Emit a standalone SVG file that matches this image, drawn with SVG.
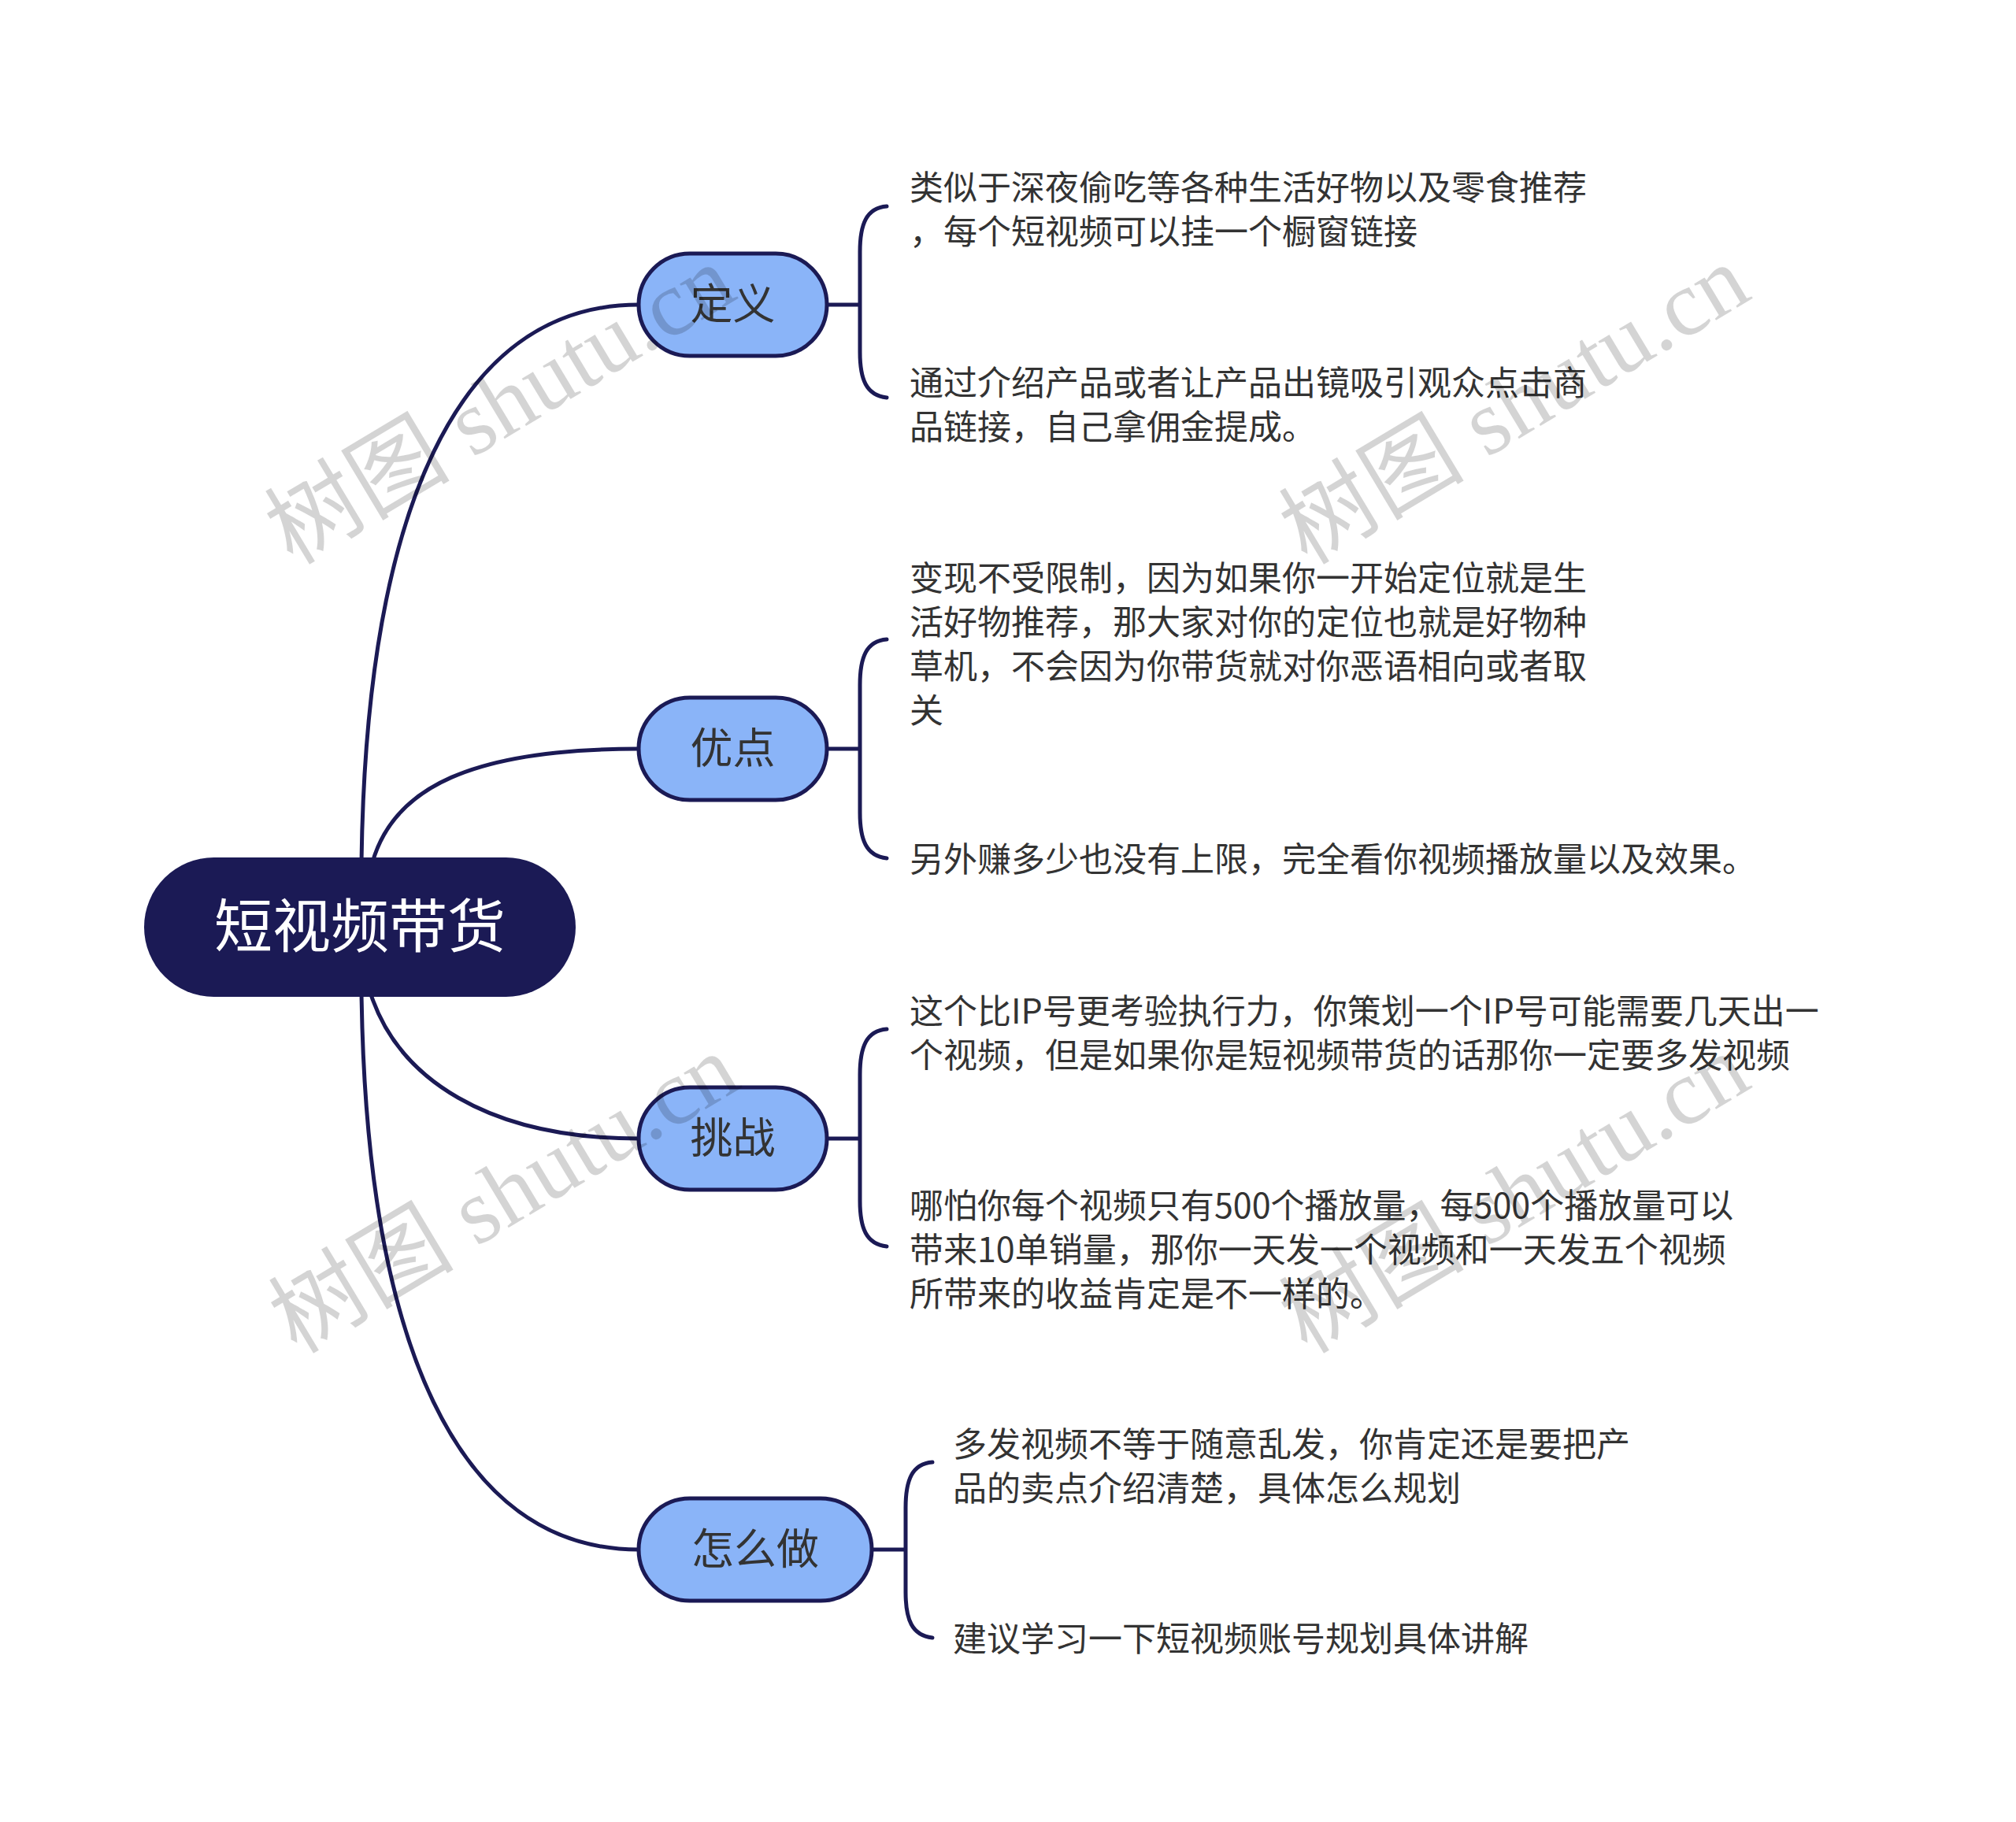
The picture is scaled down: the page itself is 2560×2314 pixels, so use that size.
<svg xmlns="http://www.w3.org/2000/svg" width="2560" height="2314" viewBox="0 0 2560 2314">
<style>
.conn{fill:none;stroke:#1b1a55;stroke-width:5;stroke-linecap:round}
.root{fill:#1b1a55}
.sub{fill:#8ab4f8;stroke:#1b1a55;stroke-width:5}
.rt{font-family:"Noto Sans CJK SC","Noto Sans",sans-serif;font-size:74px;fill:#ffffff;text-anchor:middle}
.st{font-family:"Noto Sans CJK SC","Noto Sans",sans-serif;font-size:54px;fill:#333333;text-anchor:middle}
.lt{font-family:"Noto Sans CJK SC","Noto Sans",sans-serif;font-size:43px;fill:#333333}
.wm{font-family:"Liberation Serif","Noto Sans CJK SC",serif;font-size:118px;fill:#000000;fill-opacity:0.17;text-anchor:middle}
</style>
<rect width="2560" height="2314" fill="#ffffff"/>
<g id="connectors">
<path class="conn" d="M459 1095 C465 650 580 387 811 387"/>
<path class="conn" d="M473 1095 C500 1000 600 951 811 951"/>
<path class="conn" d="M470 1260 C505 1370 620 1446 811 1446"/>
<path class="conn" d="M459 1260 C465 1705 580 1968 811 1968"/>
<path class="conn" d="M1050 387 H1092 M1126 262 C1100 264 1092 285 1092 320 L1092 447 C1092 482 1100 502 1126 505"/>
<path class="conn" d="M1050 951 H1092 M1126 812 C1100 814 1092 835 1092 870 L1092 1032 C1092 1067 1100 1087 1126 1090"/>
<path class="conn" d="M1050 1446 H1092 M1126 1307 C1100 1309 1092 1330 1092 1365 L1092 1525 C1092 1560 1100 1580 1126 1583"/>
<path class="conn" d="M1107 1968 H1150 M1184 1857 C1158 1859 1150 1880 1150 1915 L1150 2022 C1150 2057 1158 2077 1184 2080"/>
</g>
<g id="root">
<rect class="root" x="183" y="1089" width="548" height="177" rx="88.5"/>
<text class="rt" x="457" y="1203">短视频带货</text>
</g>
<g id="n-dingyi">
<rect class="sub" x="811" y="322" width="239" height="130" rx="65"/>
<text class="st" x="930.5" y="406">定义</text>
</g>
<g id="n-youdian">
<rect class="sub" x="811" y="886" width="239" height="130" rx="65"/>
<text class="st" x="930.5" y="970">优点</text>
</g>
<g id="n-tiaozhan">
<rect class="sub" x="811" y="1381" width="239" height="130" rx="65"/>
<text class="st" x="930.5" y="1465">挑战</text>
</g>
<g id="n-zenmezuo">
<rect class="sub" x="811" y="1903" width="296" height="130" rx="65"/>
<text class="st" x="959" y="1987">怎么做</text>
</g>
<g id="leaf-dingyi-1">
<text class="lt" x="1155" y="254">类似于深夜偷吃等各种生活好物以及零食推荐</text>
<text class="lt" x="1155" y="310">，每个短视频可以挂一个橱窗链接</text>
</g>
<g id="leaf-dingyi-2">
<text class="lt" x="1155" y="502">通过介绍产品或者让产品出镜吸引观众点击商</text>
<text class="lt" x="1155" y="558">品链接，自己拿佣金提成。</text>
</g>
<g id="leaf-youdian-1">
<text class="lt" x="1155" y="750">变现不受限制，因为如果你一开始定位就是生</text>
<text class="lt" x="1155" y="806">活好物推荐，那大家对你的定位也就是好物种</text>
<text class="lt" x="1155" y="862">草机，不会因为你带货就对你恶语相向或者取</text>
<text class="lt" x="1155" y="918">关</text>
</g>
<g id="leaf-youdian-2">
<text class="lt" x="1155" y="1107">另外赚多少也没有上限，完全看你视频播放量以及效果。</text>
</g>
<g id="leaf-tiaozhan-1">
<text class="lt" x="1155" y="1300">这个比IP号更考验执行力，你策划一个IP号可能需要几天出一</text>
<text class="lt" x="1155" y="1356">个视频，但是如果你是短视频带货的话那你一定要多发视频</text>
</g>
<g id="leaf-tiaozhan-2">
<text class="lt" x="1155" y="1547">哪怕你每个视频只有500个播放量，每500个播放量可以</text>
<text class="lt" x="1155" y="1603">带来10单销量，那你一天发一个视频和一天发五个视频</text>
<text class="lt" x="1155" y="1659">所带来的收益肯定是不一样的。</text>
</g>
<g id="leaf-zenmezuo-1">
<text class="lt" x="1210" y="1850">多发视频不等于随意乱发，你肯定还是要把产</text>
<text class="lt" x="1210" y="1906">品的卖点介绍清楚，具体怎么规划</text>
</g>
<g id="leaf-zenmezuo-2">
<text class="lt" x="1210" y="2097">建议学习一下短视频账号规划具体讲解</text>
</g>
<g id="watermarks">
<text class="wm" transform="translate(635 514) rotate(-31)" y="40">树图 shutu.cn</text>
<text class="wm" transform="translate(1923 514) rotate(-31)" y="40">树图 shutu.cn</text>
<text class="wm" transform="translate(640 1516) rotate(-31)" y="40">树图 shutu.cn</text>
<text class="wm" transform="translate(1923 1516) rotate(-31)" y="40">树图 shutu.cn</text>
</g>
</svg>
